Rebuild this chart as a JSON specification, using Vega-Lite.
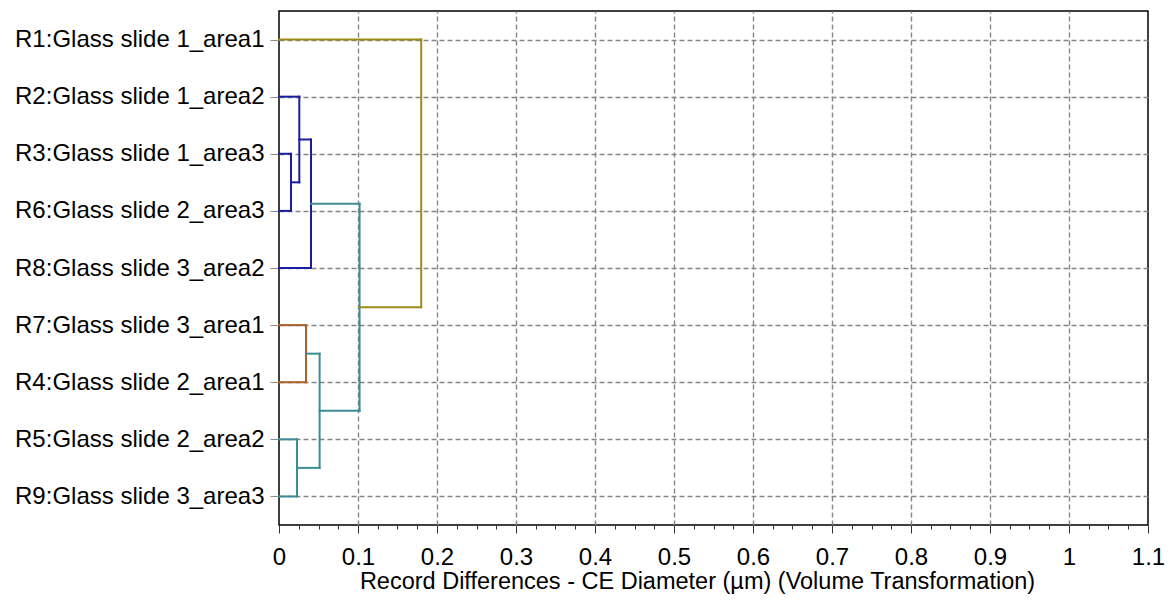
{
  "$schema": "https://vega.github.io/schema/vega-lite/v6.json",
  "autosize": "none",
  "width": 869,
  "height": 514,
  "padding": {"left": 279, "top": 11, "right": 22, "bottom": 79},
  "background": "white",
  "config": {
    "view": {"stroke": "#000000", "strokeWidth": 1.5},
    "font": "Liberation Sans"
  },
  "data": {
    "values": [
      {"x": 0, "x2": 0.0152, "y": 2, "y2": 2, "c": "blue"},
      {"x": 0, "x2": 0.0152, "y": 3, "y2": 3, "c": "blue"},
      {"x": 0.0152, "x2": 0.0152, "y": 2, "y2": 3, "c": "blue"},
      {"x": 0, "x2": 0.0257, "y": 1, "y2": 1, "c": "blue"},
      {"x": 0.0152, "x2": 0.0257, "y": 2.5, "y2": 2.5, "c": "blue"},
      {"x": 0.0257, "x2": 0.0257, "y": 1, "y2": 2.5, "c": "blue"},
      {"x": 0.0257, "x2": 0.0405, "y": 1.75, "y2": 1.75, "c": "blue"},
      {"x": 0, "x2": 0.0405, "y": 4, "y2": 4, "c": "blue"},
      {"x": 0.0405, "x2": 0.0405, "y": 1.75, "y2": 4, "c": "blue"},
      {"x": 0.0405, "x2": 0.102, "y": 2.875, "y2": 2.875, "c": "teal"},
      {"x": 0, "x2": 0.0342, "y": 5, "y2": 5, "c": "brown"},
      {"x": 0, "x2": 0.0342, "y": 6, "y2": 6, "c": "brown"},
      {"x": 0.0342, "x2": 0.0342, "y": 5, "y2": 6, "c": "brown"},
      {"x": 0.0342, "x2": 0.0514, "y": 5.5, "y2": 5.5, "c": "teal"},
      {"x": 0, "x2": 0.0228, "y": 7, "y2": 7, "c": "teal"},
      {"x": 0, "x2": 0.0228, "y": 8, "y2": 8, "c": "teal"},
      {"x": 0.0228, "x2": 0.0228, "y": 7, "y2": 8, "c": "teal"},
      {"x": 0.0228, "x2": 0.0514, "y": 7.5, "y2": 7.5, "c": "teal"},
      {"x": 0.0514, "x2": 0.0514, "y": 5.5, "y2": 7.5, "c": "teal"},
      {"x": 0.0514, "x2": 0.102, "y": 6.5, "y2": 6.5, "c": "teal"},
      {"x": 0.102, "x2": 0.102, "y": 2.875, "y2": 6.5, "c": "teal"},
      {"x": 0.102, "x2": 0.18, "y": 4.6875, "y2": 4.6875, "c": "olive"},
      {"x": 0, "x2": 0.18, "y": 0, "y2": 0, "c": "olive"},
      {"x": 0.18, "x2": 0.18, "y": 0, "y2": 4.6875, "c": "olive"}
    ]
  },
  "mark": {"type": "rule", "strokeWidth": 2, "strokeCap": "square"},
  "encoding": {
    "x": {
      "field": "x",
      "type": "quantitative",
      "scale": {"domain": [0, 1.1], "nice": false, "zero": false},
      "axis": {
        "values": [0, 0.025, 0.05, 0.075, 0.1, 0.125, 0.15, 0.175, 0.2, 0.225, 0.25, 0.275, 0.3, 0.325, 0.35, 0.375, 0.4, 0.425, 0.45, 0.475, 0.5, 0.525, 0.55, 0.575, 0.6, 0.625, 0.65, 0.675, 0.7, 0.725, 0.75, 0.775, 0.8, 0.825, 0.85, 0.875, 0.9, 0.925, 0.95, 0.975, 1, 1.025, 1.05, 1.075, 1.1],
        "labelExpr": "abs(datum.value*10 - round(datum.value*10)) < 0.001 ? format(datum.value, '~g') : ''",
        "tickSize": {"condition": {"test": "abs(datum.value*10 - round(datum.value*10)) < 0.001", "value": 8}, "value": 4},
        "gridOpacity": {"condition": {"test": "abs(datum.value*10 - round(datum.value*10)) < 0.001 && datum.value > 0.001 && datum.value < 1.099", "value": 1}, "value": 0},
        "grid": true,
        "gridColor": "#858585",
        "gridDash": [5, 3],
        "gridWidth": 1.4,
        "tickColor": "#333333",
        "tickWidth": 1,
        "domain": false,
        "labelFontSize": 24,
        "labelColor": "#000000",
        "labelPadding": 12,
        "labelFlush": false,
        "title": "Record Differences - CE Diameter (µm) (Volume Transformation)",
        "titleFontSize": 23.5,
        "titleFontWeight": "normal",
        "titleColor": "#000000",
        "titlePadding": 0,
        "titleAnchor": "middle",
        "titleX": 418
      }
    },
    "x2": {"field": "x2"},
    "y": {
      "field": "y",
      "type": "quantitative",
      "scale": {"domain": [-0.5, 8.5], "reverse": true, "nice": false, "zero": false},
      "axis": {
        "values": [0, 1, 2, 3, 4, 5, 6, 7, 8],
        "labelExpr": "['R1:Glass slide 1_area1','R2:Glass slide 1_area2','R3:Glass slide 1_area3','R6:Glass slide 2_area3','R8:Glass slide 3_area2','R7:Glass slide 3_area1','R4:Glass slide 2_area1','R5:Glass slide 2_area2','R9:Glass slide 3_area3'][datum.value]",
        "grid": true,
        "gridColor": "#858585",
        "gridDash": [5, 3],
        "gridWidth": 1.4,
        "tickSize": 9,
        "tickColor": "#8c8c8c",
        "domain": false,
        "labelFontSize": 24,
        "labelColor": "#000000",
        "labelPadding": 6,
        "labelLimit": 500,
        "labelFlush": false,
        "title": null
      }
    },
    "y2": {"field": "y2"},
    "color": {
      "field": "c",
      "type": "nominal",
      "scale": {"domain": ["olive", "blue", "teal", "brown"], "range": ["#9c8c18", "#1c1ca0", "#3c8c94", "#ac602a"]},
      "legend": null
    }
  }
}
